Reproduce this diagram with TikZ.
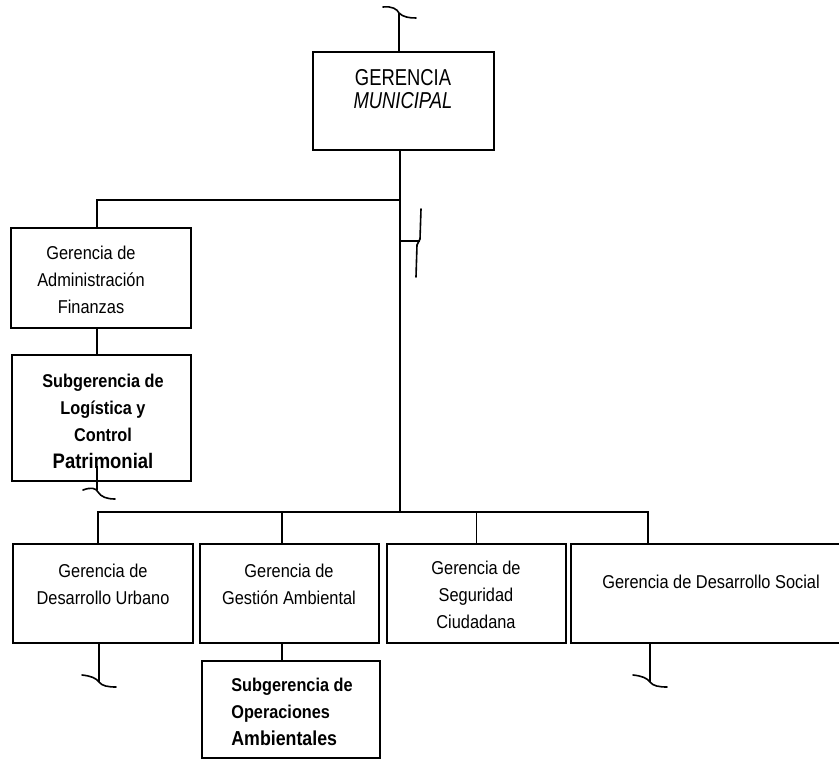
\documentclass[tikz,border=0pt]{standalone}
\usepackage{fontspec}
\setmainfont[FakeStretch=0.88]{Liberation Sans}
\newfontfamily\estrecha[FakeStretch=0.8]{Liberation Sans}
\usetikzlibrary{calc}

\begin{document}
\begin{tikzpicture}[x=1pt, y=-1pt,
	caja/.style={draw, line width=2.3pt, inner sep=0pt},
	texto/.style={align=center, inner sep=0pt, font=\fontsize{18.6}{27}\selectfont},
	linea/.style={line width=1.8pt},
	corte/.style={line width=1.6pt, line cap=round}]
	\useasboundingbox (0,0) rectangle (839,762);
	\clip (0,0) rectangle (839,762);

	% cajas
	\node [caja, minimum width=181, minimum height=98] (gm) at (403.5,101) {};
	\node [caja, minimum width=180, minimum height=100] (gaf) at (101,278) {};
	\node [caja, minimum width=179, minimum height=126] (slcp) at (101.5,418) {};
	\node [caja, minimum width=180, minimum height=99] (gdu) at (103,593.5) {};
	\node [caja, minimum width=179, minimum height=99] (gga) at (289.5,593.5) {};
	\node [caja, minimum width=179, minimum height=99] (gsc) at (476.5,593.5) {};
	\node [caja, minimum width=274, minimum height=99] (gds) at (708,593.5) {};
	\node [caja, minimum width=178, minimum height=97] (soa) at (291,709.5) {};

	% textos
	\node [texto, font=\estrecha\fontsize{23}{23}\selectfont] (tgm) at (403,89) {GERENCIA\\\textit{MUNICIPAL}};
	\node [texto] (tgaf) at (91,280) {Gerencia de\\Administración\\Finanzas};
	\node [texto, font=\fontsize{18.5}{27}\selectfont\bfseries] (tslcp) at (103,421) {Subgerencia de\\Logística y\\Control\\{\fontsize{21}{27}\selectfont Patrimonial}};
	\node [texto] (tgdu) at (103,584) {Gerencia de\\Desarrollo Urbano};
	\node [texto] (tgga) at (289,584) {Gerencia de\\Gestión Ambiental};
	\node [texto] (tgsc) at (476,595) {Gerencia de\\Seguridad\\Ciudadana};
	\node [texto] (tgds) at (711,582) {Gerencia de Desarrollo Social};
	\node [texto, align=left, font=\fontsize{18.5}{27}\selectfont\bfseries] (tsoa) at (292,712) {Subgerencia de\\Operaciones\\{\fontsize{20.2}{27}\selectfont Ambientales}};

	% conectores
	\coordinate (arriba) at (399,13);
	\coordinate (rama) at (400,200);
	\coordinate (bus) at (400,512);
	\draw [linea] (arriba) -- (arriba |- gm.north);
	\draw [linea] (gm.south -| bus) -- (bus);
	\draw [linea] (rama) -| ([xshift=-4pt]gaf.north);
	\draw [linea] ([xshift=-4pt]gaf.south) -- ([xshift=-4pt]gaf.south |- slcp.north);
	\draw [linea] ([xshift=-5pt]gdu.north) |- (bus) -| ([xshift=-60pt]gds.north);
	\draw [linea] ([xshift=-7.5pt]gga.north) -- ([xshift=-7.5pt]gga.north |- bus);
	\draw [linea] (gsc.north) -- (gsc.north |- bus);
	\draw [linea] ([xshift=-7.5pt]gga.south) -- ([xshift=-7.5pt]gga.south |- soa.north);
	\draw [linea] (97,466) -- (97,490);
	\draw [linea] ([xshift=-4pt]gdu.south) -- ++(0,38);
	\draw [linea] ([xshift=-58pt]gds.south) -- ++(0,38);

	% cortes
	\draw [corte] (383,7) .. controls (392,6) and (397,9) .. (399,13) .. controls (403,17) and (409,18) .. (416,18);
	\draw [corte] (83,490) .. controls (91,487) and (96,488) .. (98,492) .. controls (101,497) and (107,499) .. (115,499);
	\draw [corte] (82,675) .. controls (91,676) and (96,678) .. (99,682) .. controls (102,686) and (108,687) .. (116,687);
	\draw [corte] (633,675) .. controls (642,676) and (647,678) .. (650,682) .. controls (653,686) and (659,687) .. (667,687);
	\draw [corte] (421,209) -- (420,239) -- (417,245) -- (416,277);
	\draw [linea] (420,241) -- (rama |- 0,241);
\end{tikzpicture}
\end{document}
